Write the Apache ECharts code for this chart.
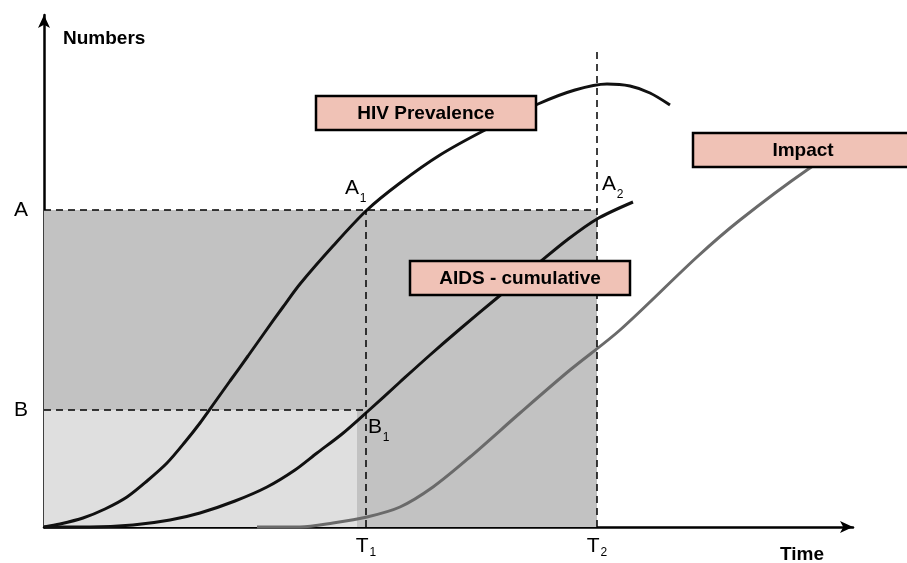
<!DOCTYPE html>
<html>
<head>
<meta charset="utf-8">
<script src="https://cdn.jsdelivr.net/npm/echarts@6/dist/echarts.min.js"></script>
<style>html,body{margin:0;padding:0;background:#fff}#c{width:907px;height:563px}</style>
</head>
<body>
<div id="c"></div>
<script>
// ---- data (arbitrary units: time 0..809, numbers 0..512) ----
const timeMax = 809;
const numMax = 512;
const levelA = 317;
const levelB = 117;
const timeT1 = 322;
const timeT2 = 553;
const lightShadeEnd = 313;
const t2LineTop = 475;

const hivPrevalence = [[0,0],[16,3],[39,9],[61,18],[83,30],[103,46],[123,64],[141,85],[156,104],[171,125],[186,146],[204,171],[221,195],[239,220],[256,243],[289,281],[323,317],[356,344],[396,372],[441,397],[494,423],[531,437],[563,443],[586,441],[606,434],[626,422]];
const aidsCumulative = [[0,0],[46,0],[89,2],[126,7],[156,14],[191,26],[223,40],[251,57],[273,74],[298,93],[323,115],[356,145],[386,172],[416,198],[453,229],[496,265],[523,287],[553,308],[589,325]];
const impact = [[213,0],[256,0],[289,4],[323,10],[356,20],[389,40],[426,70],[476,114],[526,157],[576,197],[653,270],[696,307],[763,357],[826,397],[863,414]];

const yTickValues = [levelB, levelA];
const yTickLabels = ['B', 'A'];
const xTickValues = [timeT1, timeT2];
const xTickMain = ['T', 'T'];
const xTickSub = ['1', '2'];

const boxLabels = [
  [382, 414, 'HIV Prevalence'],
  [476, 249, 'AIDS - cumulative'],
  [759, 377, 'Impact']
];
const pointLabels = [
  [313, 339, 'A', '1'],
  [570, 343, 'A', '2'],
  [336, 100, 'B', '1']
];

const chart = echarts.init(document.getElementById('c'), null, {renderer: 'canvas'});
const font = 'Arial, "Liberation Sans", sans-serif';
const richSub = {
  m: {fontSize: 21, fontFamily: font, color: '#000'},
  s: {fontSize: 12, fontFamily: font, color: '#000', verticalAlign: 'bottom', padding: [14, 0, 0, 1]}
};

const curveLine = (name, data, color) => ({
  name, type: 'line', data, smooth: 0.3, symbol: 'none', clip: false, z: 3,
  lineStyle: {color, width: 3}
});

chart.setOption({
  animation: false,
  grid: {left: 44, right: 54, top: 15, bottom: 36},
  xAxis: {
    type: 'value', min: 0, max: timeMax,
    splitLine: {show: false},
    axisTick: {show: false},
    axisLine: {show: true, onZero: false, lineStyle: {color: '#000', width: 2.5}, symbol: ['none', 'arrow'], symbolSize: [9, 13]},
    axisLabel: {
      customValues: xTickValues, margin: 6, color: '#000',
      formatter: (v) => { const i = xTickValues.indexOf(v); return i < 0 ? '' : '{m|' + xTickMain[i] + '}{s|' + xTickSub[i] + '}'; },
      rich: richSub
    }
  },
  yAxis: {
    type: 'value', min: 0, max: numMax,
    splitLine: {show: false},
    axisTick: {show: false},
    axisLine: {show: true, onZero: false, lineStyle: {color: '#000', width: 2.5}, symbol: ['none', 'arrow'], symbolSize: [9, 13]},
    axisLabel: {
      customValues: yTickValues, margin: 16, color: '#000', fontSize: 21, fontFamily: font,
      formatter: (v) => yTickLabels[yTickValues.indexOf(v)] || ''
    }
  },
  graphic: [
    {type: 'text', left: 63, top: 29, style: {text: 'Numbers', font: 'bold 19px ' + font, fill: '#000'}},
    {type: 'text', left: 780, top: 545, style: {text: 'Time', font: 'bold 19px ' + font, fill: '#000'}}
  ],
  series: [
    {
      name: 'guides', type: 'line', data: [], z: 1,
      markArea: {
        silent: true,
        data: [
          [{coord: [0, levelA], itemStyle: {color: '#c2c2c2'}}, {coord: [timeT2, 0]}],
          [{coord: [0, levelB], itemStyle: {color: '#dfdfdf'}}, {coord: [lightShadeEnd, 0]}]
        ]
      },
      markLine: {
        silent: true, symbol: ['none', 'none'],
        label: {show: false},
        lineStyle: {color: '#000', width: 1.5, type: [7, 5]},
        data: [
          [{coord: [0, levelA]}, {coord: [timeT2, levelA]}],
          [{coord: [0, levelB]}, {coord: [timeT1, levelB]}],
          [{coord: [timeT1, 0]}, {coord: [timeT1, levelA]}],
          [{coord: [timeT2, 0]}, {coord: [timeT2, t2LineTop]}]
        ]
      }
    },
    curveLine('HIV Prevalence', hivPrevalence, '#111'),
    curveLine('AIDS - cumulative', aidsCumulative, '#111'),
    curveLine('Impact', impact, '#6a6a6a'),
    {
      name: 'boxes', type: 'custom', z: 6, silent: true, clip: false,
      data: boxLabels.map(d => [d[0], d[1]]),
      renderItem: (params, api) => {
        const c = api.coord([api.value(0), api.value(1)]);
        const w = 220, h = 34;
        return {
          type: 'group',
          children: [
            {type: 'rect', shape: {x: c[0] - w / 2, y: c[1] - h / 2, width: w, height: h},
             style: {fill: '#f0c2b6', stroke: '#000', lineWidth: 2.5}},
            {type: 'text', style: {text: boxLabels[params.dataIndex][2], x: c[0], y: c[1] + 1,
             align: 'center', verticalAlign: 'middle', font: 'bold 19px ' + font, fill: '#000'}}
          ]
        };
      }
    },
    {
      name: 'points', type: 'custom', z: 6, silent: true, clip: false,
      data: pointLabels.map(d => [d[0], d[1]]),
      renderItem: (params, api) => {
        const c = api.coord([api.value(0), api.value(1)]);
        const d = pointLabels[params.dataIndex];
        return {
          type: 'group',
          children: [
            {type: 'text', style: {text: d[2], x: c[0] - 5, y: c[1], align: 'center', verticalAlign: 'middle', font: '21px ' + font, fill: '#000'}},
            {type: 'text', style: {text: d[3], x: c[0] + 6, y: c[1] + 11, align: 'center', verticalAlign: 'middle', font: '12px ' + font, fill: '#000'}}
          ]
        };
      }
    }
  ]
});
</script>
</body>
</html>
